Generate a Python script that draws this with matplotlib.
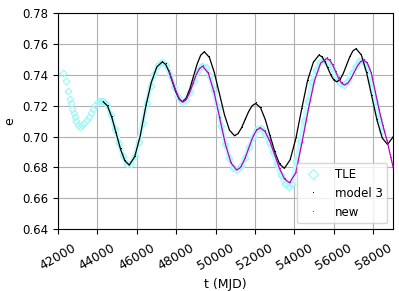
import matplotlib
matplotlib.use("Agg")
import matplotlib.pyplot as plt

# TLE, sparse early part (single diamonds visible)
tle_t_early = [42240, 42420, 42525, 42610, 42660, 42728, 42795, 42863, 42930, 43032,
               43134, 43236, 43337, 43455, 43574, 43676, 43794, 43896, 44015, 44117]
tle_e_early = [0.7412, 0.7360, 0.7292, 0.7240, 0.7214, 0.7176, 0.7150, 0.7124, 0.7098, 0.7076,
               0.7063, 0.7072, 0.7085, 0.7106, 0.7128, 0.7150, 0.7176, 0.7201, 0.7223, 0.7231]

# TLE, dense part
tle_t = [44200, 44300, 44500, 44700, 44900, 45100, 45300, 45500, 45700, 45900,
         46100, 46300, 46500, 46700, 46900, 47100, 47300, 47500, 47700, 47900,
         48100, 48300, 48500, 48700, 48900, 49100, 49300, 49500, 49700, 49900,
         50100, 50300, 50500, 50700, 50900, 51100, 51300, 51500, 51700, 51900,
         52100, 52300, 52500, 52700, 52900, 53100, 53300, 53500, 53700, 53900,
         54100, 54300, 54500, 54700, 54900, 55100, 55300, 55500, 55700, 55900,
         56100, 56300, 56500, 56700, 56900, 57100, 57300, 57500, 57700, 57900,
         58100, 58300, 58450]
tle_e = [0.7232, 0.7228, 0.7204, 0.7141, 0.7051, 0.6955, 0.6874, 0.6825, 0.6824, 0.6872,
         0.6966, 0.7086, 0.7217, 0.7328, 0.7407, 0.7462, 0.7485, 0.7461, 0.7399, 0.7321,
         0.7256, 0.7226, 0.7237, 0.7290, 0.7362, 0.7426, 0.7459, 0.7447, 0.7392, 0.7301,
         0.7188, 0.7066, 0.6951, 0.6858, 0.6799, 0.6786, 0.6808, 0.6861, 0.6932, 0.6999,
         0.7046, 0.7058, 0.7015, 0.6966, 0.6898, 0.6822, 0.6750, 0.6695, 0.6672, 0.6690,
         0.6840, 0.6970, 0.7100, 0.7230, 0.7350, 0.7430, 0.7485, 0.7492, 0.7480, 0.7445,
         0.7390, 0.7345, 0.7335, 0.7360, 0.7410, 0.7455, 0.7487, 0.7490, 0.7445, 0.7350,
         0.7230, 0.7115, 0.7035]

# model 3
m3_t = [44300, 44520, 44740, 44960, 45180, 45400, 45620, 45900, 46180, 46460,
        46740, 47020, 47300, 47470, 47640, 47810, 47980, 48150, 48320, 48505,
        48690, 48875, 49060, 49245, 49430, 49685, 49940, 50195, 50450, 50705,
        50960, 51140, 51320, 51500, 51680, 51860, 52040, 52282, 52523, 52765,
        53007, 53248, 53490, 53783, 54077, 54370, 54663, 54957, 55250, 55400,
        55550, 55700, 55850, 56000, 56150, 56313, 56477, 56640, 56803, 56967,
        57130, 57395, 57660, 57925, 58190, 58455, 58720, 58950, 59100]
m3_e = [0.7225, 0.7198, 0.7123, 0.7020, 0.6918, 0.6843, 0.6815, 0.6870, 0.7005, 0.7195,
        0.7350, 0.7450, 0.7483, 0.7466, 0.7419, 0.7354, 0.7290, 0.7242, 0.7225, 0.7247,
        0.7306, 0.7387, 0.7467, 0.7526, 0.7548, 0.7512, 0.7412, 0.7277, 0.7141, 0.7041,
        0.7005, 0.7019, 0.7057, 0.7110, 0.7162, 0.7200, 0.7214, 0.7186, 0.7109, 0.7004,
        0.6899, 0.6822, 0.6794, 0.6850, 0.6990, 0.7180, 0.7360, 0.7480, 0.7527, 0.7515,
        0.7484, 0.7440, 0.7397, 0.7365, 0.7354, 0.7368, 0.7408, 0.7461, 0.7514, 0.7554,
        0.7568, 0.7527, 0.7413, 0.7259, 0.7104, 0.6990, 0.6949, 0.6988, 0.7015]

# new
new_t = [47640, 47850, 48050, 48200, 48340, 48508, 48675, 48843, 49010, 49178,
         49345, 49633, 49922, 50210, 50498, 50787, 51075, 51273, 51470, 51668,
         51865, 52063, 52260, 52508, 52757, 53005, 53253, 53502, 53750, 54066,
         54382, 54698, 55013, 55329, 55645, 55794, 55943, 56092, 56242, 56391,
         56540, 56701, 56862, 57023, 57184, 57344, 57505, 57700, 57900, 58100,
         58300, 58500, 58700, 58900, 59000, 59100]
new_e = [0.7425, 0.7345, 0.7275, 0.7235, 0.7222, 0.7238, 0.7280, 0.7339, 0.7397, 0.7439,
         0.7455, 0.7410, 0.7287, 0.7119, 0.6951, 0.6828, 0.6783, 0.6801, 0.6852, 0.6920,
         0.6989, 0.7039, 0.7057, 0.7033, 0.6968, 0.6879, 0.6790, 0.6725, 0.6701, 0.6765,
         0.6960, 0.7170, 0.7360, 0.7475, 0.7505, 0.7493, 0.7462, 0.7419, 0.7376, 0.7345,
         0.7333, 0.7344, 0.7373, 0.7414, 0.7454, 0.7483, 0.7494, 0.7475, 0.7410, 0.7290,
         0.7170, 0.7065, 0.6972, 0.6860, 0.6805, 0.6750]

plt.rcParams['font.size'] = 8.5

fig = plt.figure(figsize=(3.99, 2.91), dpi=100)
ax = fig.add_subplot(111)
fig.subplots_adjust(left=0.145, right=0.985, top=0.956, bottom=0.212)

cy = '#9ff7f7'
ax.plot(tle_t, tle_e, '-', color='#c4fbfb', lw=3.5, zorder=1)
ax.plot(tle_t_early, tle_e_early, 'D', ms=3.5, mfc='none', mec=cy, mew=0.8, zorder=2)
ax.plot(tle_t, tle_e, 'D', ms=3.5, mfc='none', mec=cy, mew=0.8, zorder=2, label='TLE')

ax.plot(m3_t, m3_e, '-', color='k', lw=0.9, zorder=3)
ax.plot(m3_t, m3_e, 'k,', zorder=3, label='model 3')
ax.plot(new_t, new_e, '-', color='m', lw=0.9, zorder=4)
ax.plot(new_t, new_e, 'm,', zorder=4, label='new')

ax.set_xlim(42000, 59000)
ax.set_ylim(0.64, 0.78)
ax.set_xticks(range(42000, 58001, 2000))
ax.set_yticks([0.64, 0.66, 0.68, 0.70, 0.72, 0.74, 0.76, 0.78])
ax.set_yticklabels(['%.2f' % v for v in ax.get_yticks()])
ax.tick_params(axis='x', pad=5, labelsize=9)
plt.setp(ax.get_xticklabels(), rotation=30, ha='center')
ax.grid(True, color='#b0b0b0', lw=0.8)
ax.set_axisbelow(True)
ax.set_xlabel('t (MJD)', fontsize=9)
ax.set_ylabel('e', fontsize=9)

leg = ax.legend(loc='lower right', numpoints=1, markerscale=1.5)
fig.savefig('out.png', dpi=100)
